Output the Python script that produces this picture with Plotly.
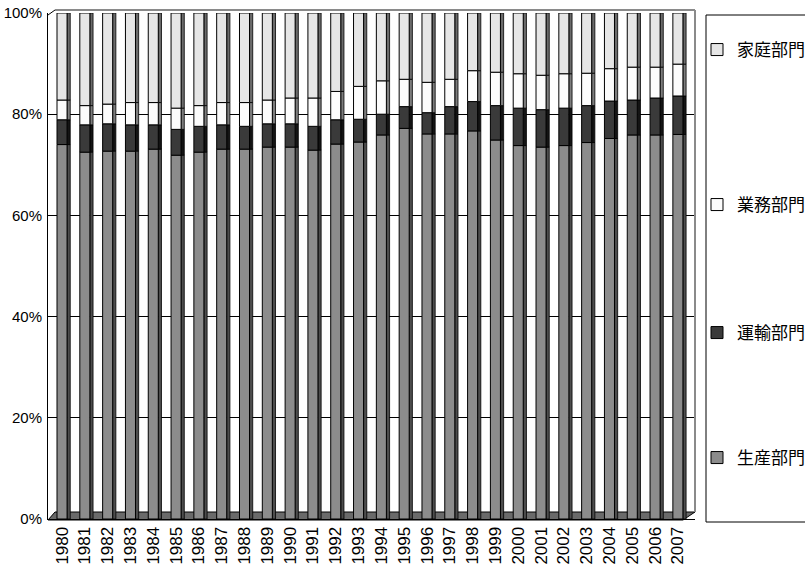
import plotly.graph_objects as go

years = [str(y) for y in range(1980, 2008)]

# shares (%)
production = [74.0, 72.5, 72.7, 72.7, 73.1, 71.9, 72.5, 73.1, 73.1, 73.5, 73.5, 72.9, 74.1, 74.5,
              75.9, 77.2, 76.1, 76.1, 76.7, 74.9, 73.8, 73.5, 73.8, 74.4, 75.2, 75.9, 75.9, 76.0]
transport = [4.9, 5.4, 5.4, 5.2, 4.8, 5.1, 5.1, 4.8, 4.5, 4.6, 4.6, 4.7, 4.8, 4.5,
             4.1, 4.3, 4.2, 5.4, 5.8, 6.8, 7.4, 7.4, 7.4, 7.3, 7.4, 6.9, 7.3, 7.6]
business = [3.9, 3.8, 3.9, 4.4, 4.4, 4.2, 4.1, 4.4, 4.7, 4.7, 5.1, 5.6, 5.6, 6.5,
            6.6, 5.4, 6.0, 5.4, 6.1, 6.6, 6.8, 6.8, 6.8, 6.4, 6.4, 6.5, 6.1, 6.3]
household = [17.2, 18.3, 18.0, 17.7, 17.7, 18.8, 18.3, 17.7, 17.7, 17.2, 16.8, 16.8, 15.5, 14.5,
             13.4, 13.1, 13.7, 13.1, 11.4, 11.7, 12.0, 12.3, 12.0, 11.9, 11.0, 10.7, 10.7, 10.1]

series = [
    ("生産部門", production, "#8c8c8c", "#4d4d4d"),
    ("運輸部門", transport, "#3a3a3a", "#141414"),
    ("業務部門", business, "#fcfcfc", "#7d7d7d"),
    ("家庭部門", household, "#e6e6e6", "#6b6b6b"),
]

FONT = "Liberation Sans, Arial, Noto Sans CJK JP, sans-serif"
CJK = "Noto Sans CJK JP, sans-serif"

fig = go.Figure()
base = [0.0] * len(years)
legend_ids = ["legend4", "legend3", "legend2", "legend"]
for i, (name, vals, col, side) in enumerate(series):
    # side face (pseudo 3D)
    fig.add_trace(go.Bar(
        x=years, y=vals, base=base, offset=0.22, width=0.14, opacity=1,
        marker=dict(color=side, opacity=1, line=dict(color="#000000", width=0.8)),
        showlegend=False, hoverinfo="skip"))
    # front face
    fig.add_trace(go.Bar(
        x=years, y=vals, base=base, offset=-0.22, width=0.44, name=name, opacity=1,
        marker=dict(color=col, opacity=1, line=dict(color="#000000", width=1)),
        legend=legend_ids[i]))
    base = [b + v for b, v in zip(base, vals)]

W, H = 805, 568
L, R, T, B = 48, 110, 13, 49
pw, ph = W - L - R, H - T - B


def px(x):
    return (x - L) / pw


def py(y):
    return (H - B - y) / ph


leg_common = dict(xref="container", yref="container", xanchor="left", yanchor="middle",
                  bgcolor="rgba(0,0,0,0)", borderwidth=0,
                  font=dict(family=CJK, size=17, color="#000000"), itemwidth=30)
leg_y = {"legend": 50, "legend2": 205, "legend3": 333, "legend4": 458}

layout_legends = {k: dict(leg_common, x=697 / W, y=1 - v / H) for k, v in leg_y.items()}

shapes = [
    # floor
    dict(type="path", xref="paper", yref="paper",
         path=f"M {px(48)},{py(520)} L {px(683)},{py(520)} L {px(695)},{py(512)} L {px(55)},{py(512)} Z",
         fillcolor="#6a6a6a", line=dict(color="#000000", width=1), layer="below"),
    # back wall frame (gray)
    dict(type="line", xref="paper", yref="paper", x0=px(55), x1=px(695), y0=py(10), y1=py(10),
         line=dict(color="#8a8a8a", width=2)),
    dict(type="line", xref="paper", yref="paper", x0=px(695), x1=px(695), y0=py(10), y1=py(512),
         line=dict(color="#8a8a8a", width=2)),
    dict(type="line", xref="paper", yref="paper", x0=px(48), x1=px(55), y0=py(15), y1=py(10),
         line=dict(color="#000000", width=1)),
    # legend box
    dict(type="rect", xref="paper", yref="paper", x0=px(706), x1=px(830), y0=py(522), y1=py(15),
         line=dict(color="#000000", width=1), fillcolor="rgba(0,0,0,0)"),
]

fig.update_layout(
    width=W, height=H,
    margin=dict(l=L, r=R, t=T, b=B, autoexpand=False),
    barmode="overlay",
    paper_bgcolor="#ffffff", plot_bgcolor="#ffffff",
    font=dict(family=FONT, size=14, color="#000000"),
    shapes=shapes,
    **layout_legends,
)
fig.update_xaxes(type="category", range=[-0.615, 27.75], tickangle=-90, automargin=False,
                 tickfont=dict(family=FONT, size=17), showline=True, linecolor="#000000",
                 linewidth=1, ticks="", showgrid=False)
fig.update_yaxes(range=[0, 100], dtick=20, ticksuffix="%", showgrid=True, gridcolor="#000000",
                 gridwidth=1, zeroline=False, showline=True, linecolor="#000000", linewidth=1,
                 automargin=False, ticks="", ticklabelstandoff=2,
                 tickfont=dict(family=FONT, size=15))

fig.write_html("out.html")
